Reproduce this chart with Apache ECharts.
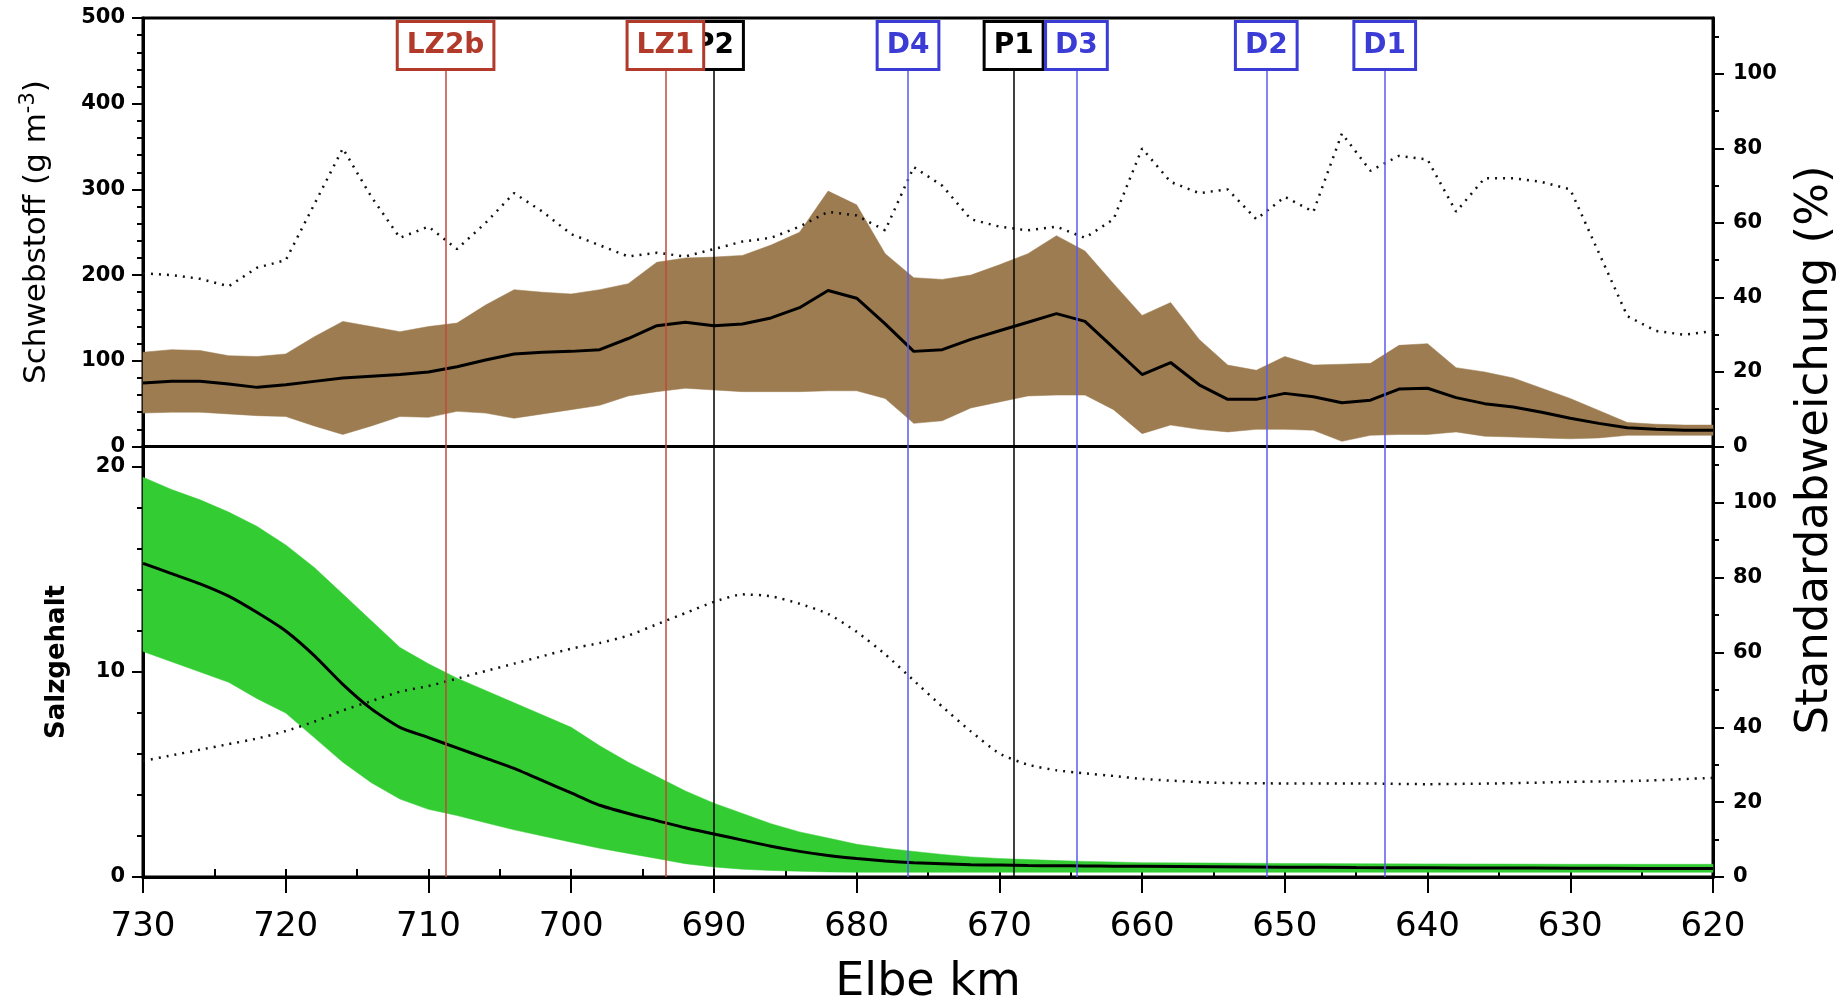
<!DOCTYPE html>
<html><head><meta charset="utf-8">
<script src="https://cdn.jsdelivr.net/npm/echarts@6/dist/echarts.min.js"></script>
<style>html,body{margin:0;padding:0;background:#fff}#c{width:1845px;height:1002px}</style>
</head><body><div id="c"></div>
<script>
// ---------- data ----------
const kmUpper = [730,728,726,724,722,720,718,716,714,712,710,708,706,704,702,700,698,696,694,692,690,688,686,684,682,680,678,676,674,672,670,668,666,664,662,660,658,656,654,652,650,648,646,644,642,640,638,636,634,632,630,628,626,624,622,620];
const ssMean = [74,76,76,73,69,72,76,80,82,84,87,93,101,108,110,111,113,126,141,145,141,143,150,162,182,173,143,111,113,125,135,145,155,146,115,84,98,72,55,55,62,58,51,54,67,68,57,50,46,40,33,27,22,20,19,19];
const ssHigh = [110,113,112,106,105,108,128,146,140,134,140,144,165,183,180,178,183,190,215,220,221,223,235,250,298,282,225,197,195,200,212,225,246,228,190,153,168,125,95,89,105,95,96,97,118,120,92,87,80,68,56,42,28,26,25,25];
const ssLow = [39,40,40,38,36,35,24,14,24,35,34,41,39,33,38,43,48,59,64,68,66,64,64,64,65,65,56,27,30,45,52,59,60,60,43,15,25,20,17,20,20,19,6,13,14,14,17,12,11,10,9,10,13,13,13,13];
const ssStd = [46.5,46,45,43,48,50,65,80,67,56,59,53,60,68,63,57,54,51,52,51,53,55,56,59,63,62,58,75,70,61,59,58,59,56,61,80,71,68,69,61,67,63,84,74,78,77,63,72,72,71,69,52,35,31,30,31];

const kmLower = [730,728,726,724,722,720,718,716,714,712,710,708,706,704,702,700,698,696,694,692,690,688,686,684,682,680,678,676,674,672,670,668,666,664,662,660,655,650,645,640,635,630,625,620];
const salMean = [15.3,14.8,14.3,13.7,12.9,12.0,10.8,9.4,8.2,7.3,6.8,6.3,5.8,5.3,4.7,4.1,3.5,3.1,2.75,2.4,2.1,1.8,1.5,1.25,1.05,0.9,0.78,0.7,0.65,0.6,0.58,0.56,0.55,0.54,0.53,0.52,0.5,0.48,0.46,0.45,0.44,0.43,0.42,0.42];
const salHigh = [19.5,18.9,18.4,17.8,17.1,16.2,15.1,13.8,12.5,11.2,10.4,9.7,9.1,8.5,7.9,7.3,6.4,5.6,4.9,4.2,3.6,3.1,2.6,2.2,1.9,1.6,1.4,1.25,1.1,0.98,0.9,0.85,0.8,0.76,0.73,0.7,0.68,0.66,0.65,0.64,0.63,0.62,0.62,0.62];
const salLow = [11.0,10.5,10.0,9.5,8.7,8.0,6.8,5.6,4.6,3.8,3.3,3.0,2.65,2.3,2.0,1.7,1.4,1.15,0.9,0.65,0.49,0.38,0.32,0.28,0.25,0.23,0.23,0.23,0.23,0.23,0.23,0.23,0.23,0.23,0.23,0.23,0.23,0.23,0.23,0.23,0.23,0.23,0.23,0.23];
const salStd = [31,32.5,34,35.5,37,39,41.5,44.5,47,49.5,51,53,55,57,59,61,62.5,64.5,67.5,70.5,73.5,75.5,75,73,70.3,65.5,59.5,52.5,45.5,38.9,33,30,28.5,27.7,27,26.2,25.2,25,25,24.8,25,25.4,25.7,26.5];

const pNames = ['P2','P1'];
const pKm = [690.0, 669.0];
const lzNames = ['LZ2b','LZ1'];
const lzKm = [708.8, 693.4];
const dNames = ['D4','D3','D2','D1'];
const dKm = [676.4, 664.6, 651.3, 643.0];

const ssTicks = [0,100,200,300,400,500];
const pctTicks = [0,20,40,60,80,100];
const pctMinor = [10,30,50,70,90,110];
const salTicks = [0,10,20];
const salMinor = [2,4,6,8,12,14,16,18];

// ---------- helpers ----------
const FONT = 'DejaVu Sans';
const pair = (xs, ys) => xs.map((x, i) => [x, ys[i]]);
function band(kms, lo, hi, color) {
  return function (params, api) {
    if (params.dataIndex !== 0) return null;
    const pts = [];
    for (let i = 0; i < kms.length; i++) pts.push(api.coord([kms[i], hi[i]]));
    for (let i = kms.length - 1; i >= 0; i--) pts.push(api.coord([kms[i], lo[i]]));
    return { type: 'polygon', shape: { points: pts }, style: { fill: color, stroke: color, lineWidth: 0.5 } };
  };
}
const noSplit = { show: false };
function xAx(grid, extra) {
  return Object.assign({
    gridIndex: grid, type: 'value', min: 620, max: 730, inverse: true, interval: 10,
    splitLine: noSplit, axisLine: { show: false }, axisTick: { show: false }, axisLabel: { show: false }
  }, extra || {});
}
function yAx(grid, pos, max, extra) {
  return Object.assign({
    gridIndex: grid, type: 'value', position: pos, offset: 0, min: 0, max: max,
    splitLine: noSplit, axisLine: { show: false }, axisTick: { show: false }, axisLabel: { show: false }
  }, extra || {});
}
const tickStyle = { color: '#000', width: 2 };
const ylab = (vals, margin) => ({ show: true, customValues: vals, margin: margin, fontFamily: FONT, fontWeight: 'bold', fontSize: 21, color: '#000' });
const ytick = (vals, len) => ({ show: true, customValues: vals, length: len, lineStyle: tickStyle });

function stationSeries(names, kms, color, lineColor) {
  return {
    type: 'line', xAxisIndex: 3, yAxisIndex: 8, data: [], silent: true,
    markLine: {
      silent: true, animation: false, symbol: ['none', 'none'],
      lineStyle: { color: lineColor, width: 1.5, type: 'solid' },
      label: {
        show: true, position: 'end', distance: 0, formatter: '{b}',
        color: color, fontFamily: FONT, fontWeight: 'bold', fontSize: 28, lineHeight: 34,
        backgroundColor: '#fff', borderColor: color, borderWidth: 3, padding: [6, 8, 5, 8]
      },
      data: names.map((n, i) => [{ name: n, coord: [kms[i], 0] }, { coord: [kms[i], 0.9418] }])
    }
  };
}

const chart = echarts.init(document.getElementById('c'), null, { renderer: 'canvas' });
chart.setOption({
  animation: false,
  backgroundColor: '#fff',
  grid: [
    { left: 143, right: 132, top: 18, height: 428.5, show: true, borderColor: '#000', borderWidth: 3, backgroundColor: 'transparent' },
    { left: 143, right: 132, top: 446.5, height: 430.5, show: true, borderColor: '#000', borderWidth: 3, backgroundColor: 'transparent' },
    { left: 143, right: 132, top: 18, height: 859, show: false }
  ],
  xAxis: [
    xAx(0),
    xAx(1, {
      axisLine: { show: true, lineStyle: { color: '#000', width: 3 } },
      axisTick: { show: true, length: 16, lineStyle: tickStyle },
      axisLabel: { show: true, margin: 33, fontFamily: FONT, fontSize: 34, color: '#000' }
    }),
    xAx(1, { interval: 5, axisTick: { show: true, length: 8, lineStyle: tickStyle } }),
    xAx(2)
  ],
  yAxis: [
    yAx(0, 'left', 500, { interval: 100, axisLine: { show: true, lineStyle: { color: '#000', width: 3 } }, axisTick: ytick(ssTicks, 11), axisLabel: ylab(ssTicks, 18) }),
    yAx(0, 'left', 500, { interval: 20, axisTick: { show: true, length: 6, lineStyle: tickStyle } }),
    yAx(0, 'right', 115, { axisLine: { show: true, lineStyle: { color: '#000', width: 3 } }, axisTick: ytick(pctTicks, 11), axisLabel: ylab(pctTicks, 20) }),
    yAx(0, 'right', 115, { axisTick: ytick(pctMinor, 6) }),
    yAx(1, 'left', 21, { axisLine: { show: true, lineStyle: { color: '#000', width: 3 } }, axisTick: ytick(salTicks, 11), axisLabel: ylab(salTicks, 18) }),
    yAx(1, 'left', 21, { axisTick: ytick(salMinor, 6) }),
    yAx(1, 'right', 115, { axisLine: { show: true, lineStyle: { color: '#000', width: 3 } }, axisTick: ytick(pctTicks, 11), axisLabel: ylab(pctTicks, 20) }),
    yAx(1, 'right', 115, { axisTick: ytick(pctMinor, 6) }),
    yAx(2, 'left', 1, { show: false })
  ],
  series: [
    { type: 'custom', xAxisIndex: 0, yAxisIndex: 0, silent: true, renderItem: band(kmUpper, ssLow, ssHigh, '#9c7c50'),
      data: kmUpper.map((k, i) => [k, ssLow[i], ssHigh[i]]), encode: { x: 0, y: [1, 2] } },
    { type: 'line', xAxisIndex: 0, yAxisIndex: 0, data: pair(kmUpper, ssMean), symbol: 'none', silent: true,
      lineStyle: { color: '#000', width: 3 } },
    { type: 'line', xAxisIndex: 0, yAxisIndex: 2, data: pair(kmUpper, ssStd), symbol: 'none', silent: true,
      lineStyle: { color: '#111', width: 2.5, type: [2, 6] } },
    { type: 'custom', xAxisIndex: 1, yAxisIndex: 4, silent: true, renderItem: band(kmLower, salLow, salHigh, '#33cc33'),
      data: kmLower.map((k, i) => [k, salLow[i], salHigh[i]]), encode: { x: 0, y: [1, 2] } },
    { type: 'line', xAxisIndex: 1, yAxisIndex: 4, data: pair(kmLower, salMean), symbol: 'none', silent: true, smooth: 0.2,
      lineStyle: { color: '#000', width: 3 } },
    { type: 'line', xAxisIndex: 1, yAxisIndex: 6, data: pair(kmLower, salStd), symbol: 'none', silent: true, smooth: 0.2,
      lineStyle: { color: '#111', width: 2.5, type: [2, 6] } },
    stationSeries(pNames, pKm, '#000', '#000'),
    stationSeries(lzNames, lzKm, '#b23a2a', '#c04a3a'),
    stationSeries(dNames, dKm, '#3b3bd6', '#5a5aee')
  ],
  graphic: [
    { type: 'text', x: 37, y: 232, rotation: Math.PI / 2, silent: true,
      style: { text: '{a|Schwebstoff (g m}{s|-3}{a|)}', align: 'center', verticalAlign: 'middle',
        rich: { a: { fontFamily: FONT, fontSize: 31, fill: '#000', lineHeight: 38 },
                s: { fontFamily: FONT, fontSize: 21, fill: '#000', verticalAlign: 'top', lineHeight: 38 } } } },
    { type: 'text', x: 57, y: 662, rotation: Math.PI / 2, silent: true,
      style: { text: 'Salzgehalt', fontFamily: FONT, fontWeight: 'bold', fontSize: 26, fill: '#000', align: 'center', verticalAlign: 'middle' } },
    { type: 'text', x: 1815, y: 450, rotation: Math.PI / 2, silent: true,
      style: { text: 'Standardabweichung (%)', fontFamily: FONT, fontSize: 45, fill: '#000', align: 'center', verticalAlign: 'middle' } },
    { type: 'text', x: 928, y: 983, silent: true,
      style: { text: 'Elbe km', fontFamily: FONT, fontSize: 46, fill: '#000', align: 'center', verticalAlign: 'middle' } }
  ]
});
</script></body></html>
